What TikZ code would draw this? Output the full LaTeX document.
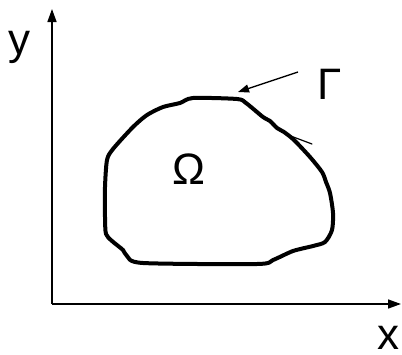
\documentclass[tikz,border=0pt]{standalone}
\usepackage{fontspec}
\setmainfont{Liberation Sans}
\usetikzlibrary{arrows.meta}
\tikzset{
  axis/.style={line width=1.6pt, -{Triangle[length=13pt, width=9pt]}},
  pointer/.style={line width=1.4pt, -{Triangle[length=11pt, width=8pt]}},
  boundary/.style={line width=4pt, line join=round, line cap=round},
  lbl/.style={font=\fontsize{44}{50}\selectfont, inner sep=0pt},
}
\begin{document}
\begin{tikzpicture}[x=1pt, y=-1pt]
  \useasboundingbox (0,0) rectangle (402,354);

  % --- assi
  \coordinate (o) at (52,304);
  \coordinate (ytip) at (52,9);
  \coordinate (xtip) at (401,304);
  \draw[axis] (o) -- (ytip);
  \draw[axis] (o) -- (xtip);
  \node[lbl] (ly) at (20,47) {y};
  \node[lbl] (lx) at (388,338) {x};

  % --- dominio e bordo
  \draw[boundary] plot[smooth cycle, tension=0.45] coordinates {
    (193,98) (237,99) (246,103) (263,117) (270,121) (277,128) (284,132)
    (294,140) (310,157) (322,172) (326,182) (330,193) (333,213) (332,230)
    (325,242) (313,246) (293,251) (273,260) (257,264) (143,263) (127,256)
    (123,250) (112,241) (106,234) (105,217) (105,187) (107,160) (113,149)
    (133,127) (147,115) (163,107) (180,103)};
  \draw[line width=1.2pt, line cap=round] (288,135) -- (312,144);
  \node[lbl] (omega) at (189,169) {Ω};

  % --- etichetta del bordo
  \node[lbl] (gamma) at (330,84) {Γ};
  \coordinate (gfrom) at (298,72);
  \coordinate (gto) at (238,92);
  \draw[pointer] (gfrom) -- (gto);
\end{tikzpicture}
\end{document}
